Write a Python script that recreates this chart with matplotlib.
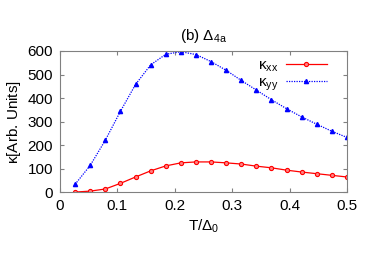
import numpy as np
import matplotlib
matplotlib.use("Agg")
import matplotlib.pyplot as plt

# T/Delta_0 samples
t = [0.0263, 0.0526, 0.0789, 0.1053, 0.1316, 0.1579, 0.1842, 0.2105, 0.2368, 0.2632,
     0.2895, 0.3158, 0.3421, 0.3684, 0.3947, 0.4211, 0.4474, 0.4737, 0.5]
kxx = [1, 5, 14, 38, 65, 91, 112, 125, 129, 129,
       125, 120, 111, 104, 94, 86, 79, 72, 65]
kyy = [34, 114, 221, 344, 458, 541, 586, 597, 585, 555,
       518, 475, 434, 393, 355, 320, 289, 259, 233]

plt.rcParams['font.family'] = ['Liberation Sans', 'DejaVu Sans']
fig = plt.figure(figsize=(3.74, 2.62), dpi=100)
ax = fig.add_axes([60/374, 1-192.3/262, 287/374, 141.3/262])

ax.plot(t, kxx, color='red', lw=0.9, marker='o', ms=3.0, mfc='#ff8080', mec='red', mew=0.8,
        label=r'$\mathregular{\kappa_{xx}}$')
ax.plot(t, kyy, color='blue', lw=0.9, ls=(0, (1, 1)), marker='^', ms=3.0,
        label=r'$\mathregular{\kappa_{yy}}$')

ax.set_xlim(0, 0.5)
ax.set_ylim(0, 600)
ax.set_xticks([0, 0.1, 0.2, 0.3, 0.4, 0.5])
ax.set_xticklabels(['0', '0.1', '0.2', '0.3', '0.4', '0.5'])
ax.set_yticks(range(0, 601, 100))
ax.tick_params(direction='in', top=True, right=True, labelsize=11, length=3,
               color='#808080', pad=5)
for s in ax.spines.values():
    s.set_color('#808080')

ax.set_xlabel(r'T/$\mathregular{\Delta_0}$', fontsize=11, labelpad=3)
ax.set_ylabel(r'$\mathregular{\kappa}$[Arb. Units]', fontsize=11, labelpad=3)
ax.set_title(r'(b) $\mathregular{\Delta_{4a}}$', fontsize=11, pad=8)
ax.legend(loc='upper right', frameon=False, markerfirst=False, fontsize=11,
          handlelength=2.7, borderaxespad=0, labelspacing=0.1, handletextpad=0.5,
          bbox_to_anchor=(0.951, 0.99))

fig.savefig('out.png', dpi=100)
